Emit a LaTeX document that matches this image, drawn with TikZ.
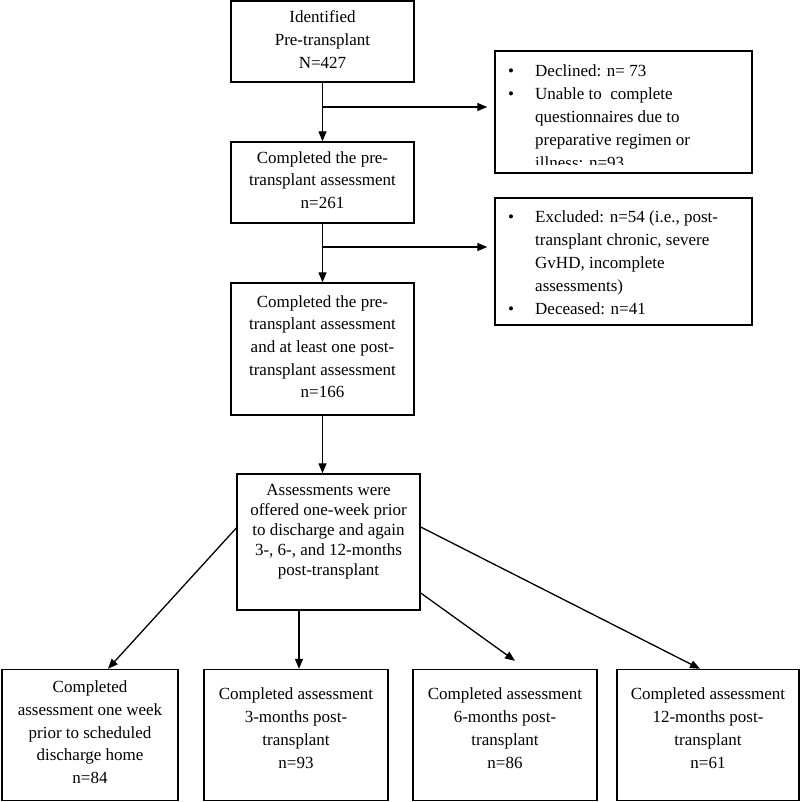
\documentclass[tikz,border=0pt]{standalone}
\usepackage{fontspec}
\setmainfont{Liberation Serif}
\usetikzlibrary{arrows.meta}
\begin{document}
\begin{tikzpicture}[x=1pt,y=1pt,
  box/.style={draw, line width=1.4pt, rectangle, inner sep=0pt},
  txt/.style={inner sep=0pt, align=center, font=\fontsize{17}{22.6}\selectfont, anchor=north},
  txtb/.style={inner sep=0pt, align=center, font=\fontsize{17}{20}\selectfont, anchor=north},
  listtxt/.style={inner sep=0pt, anchor=north west, font=\fontsize{17}{23}\selectfont},
  arr/.style={line width=1.3pt, -{Triangle[length=10pt,width=8pt]}}]
\useasboundingbox (0,0) rectangle (800,-802);
% boxes
\node[box, minimum width=183, minimum height=81] (b1) at (322.5,-41.5) {};
\node[box, minimum width=183, minimum height=81] (b2) at (322.5,-182.5) {};
\node[box, minimum width=183, minimum height=132] (b3) at (322.5,-349) {};
\node[box, minimum width=183, minimum height=136] (b4) at (328.5,-542) {};
\node[box, minimum width=176, minimum height=131] (b5) at (90,-735) {};
\node[box, minimum width=184, minimum height=131] (b6) at (296,-735) {};
\node[box, minimum width=184, minimum height=131] (b7) at (505,-735) {};
\node[box, minimum width=182, minimum height=131] (b8) at (708,-735) {};
\node[box, minimum width=257, minimum height=122] (bA) at (623.5,-112) {};
\node[box, minimum width=257, minimum height=127] (bB) at (623.5,-261.5) {};
% texts
\node[txt, font=\fontsize{17}{23}\selectfont] (t1) at ([yshift=-10pt]b1.north) {Identified\\Pre-transplant\\N=427};
\node[txt] (t2) at ([yshift=-10pt]b2.north) {Completed the pre-\\transplant assessment\\n=261};
\node[txt] (t3) at ([yshift=-13pt]b3.north) {Completed the pre-\\transplant assessment\\and at least one post-\\transplant assessment\\n=166};
\node[txtb] (t4) at ([yshift=-11pt]b4.north) {Assessments were\\offered one-week prior\\to discharge and again\\3-, 6-, and 12-months\\post-transplant};
\node[txt] (t5) at ([yshift=-12pt]b5.north) {Completed\\assessment one week\\prior to scheduled\\discharge home\\n=84};
\node[txt, font=\fontsize{17}{23}\selectfont] (t6) at ([yshift=-19pt]b6.north) {Completed assessment\\3-months post-\\transplant\\n=93};
\node[txt, font=\fontsize{17}{23}\selectfont] (t7) at ([yshift=-19pt]b7.north) {Completed assessment\\6-months post-\\transplant\\n=86};
\node[txt, font=\fontsize{17}{23}\selectfont] (t8) at ([yshift=-19pt]b8.north) {Completed assessment\\12-months post-\\transplant\\n=61};
\begin{scope}
\clip (bA.north west) rectangle (752,-165);
\node[listtxt] (tA) at (508,-60) {\begin{tabular}{@{}p{27pt}@{}l@{}}
\textbullet & Declined: n= 73\\
\textbullet & Unable to\ \ complete\\
 & questionnaires due to\\
 & preparative regimen or\\
 & illness: n=93
\end{tabular}};
\end{scope}
\node[listtxt] (tB) at (508,-206) {\begin{tabular}{@{}p{27pt}@{}l@{}}
\textbullet & Excluded: n=54 (i.e., post-\\
 & transplant chronic, severe\\
 & GvHD, incomplete\\
 & assessments)\\
\textbullet & Deceased: n=41
\end{tabular}};
% connectors
\coordinate (j1) at (322.5,-107);
\coordinate (j2) at (322.5,-247);
\draw[arr] (b1.south) -- (b2.north);
\draw[arr, shorten >=7pt] (j1) -- (j1 -| bA.west);
\draw[arr] (b2.south) -- (b3.north);
\draw[arr, shorten >=7pt] (j2) -- (j2 -| bB.west);
\draw[arr] (b3.south) -- (b3.south |- b4.north);
\draw[arr] ([yshift=14pt]b4.west) -- ([xshift=18pt]b5.north);
\draw[arr] ([xshift=-29.5pt]b4.south) -- ([xshift=3pt]b6.north);
\draw[arr] ([yshift=-51pt]b4.east) -- ([xshift=10pt,yshift=8pt]b7.north);
\draw[arr] ([yshift=15pt]b4.east) -- ([xshift=-8pt]b8.north);
\end{tikzpicture}
\end{document}
